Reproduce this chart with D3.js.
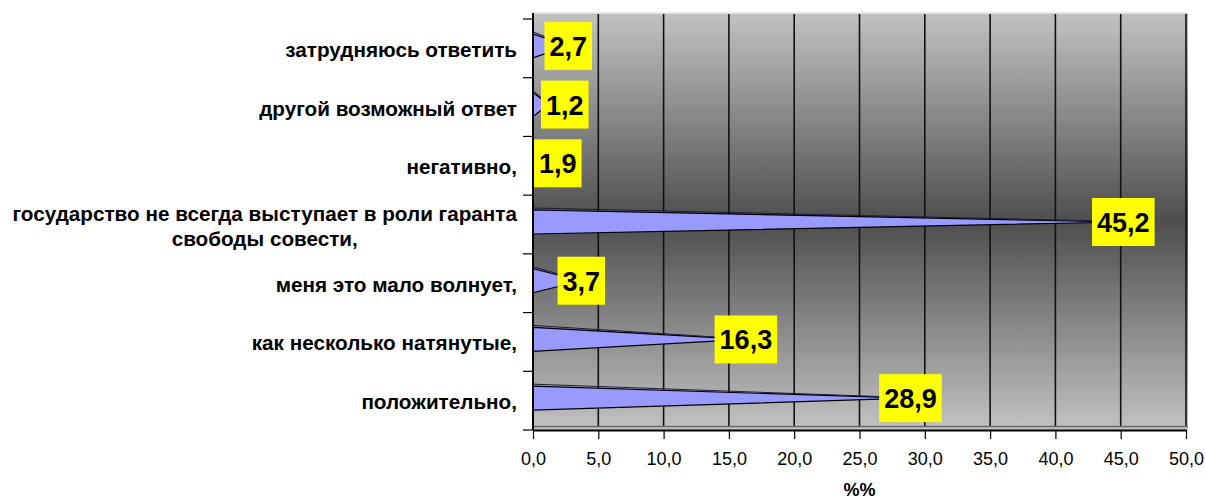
<!DOCTYPE html>
<html>
<head>
<meta charset="utf-8">
<script src="https://cdn.jsdelivr.net/npm/d3@7"></script>
<style>
  body { margin: 0; background: #fff; }
  text { font-family: Arial, "Liberation Sans", sans-serif; }
</style>
</head>
<body>
<div id="chart"></div>
<script>
// answers, top to bottom as in the chart
var categories = [
  "затрудняюсь ответить",
  "другой возможный ответ",
  "негативно,",
  "государство не всегда выступает в роли гаранта|свободы совести,",
  "меня это мало волнует,",
  "как несколько натянутые,",
  "положительно,"
];
var values = [2.7, 1.2, 1.9, 45.2, 3.7, 16.3, 28.9];
var valueLabels = ["2,7", "1,2", "1,9", "45,2", "3,7", "16,3", "28,9"];
var xTicks = [0, 5, 10, 15, 20, 25, 30, 35, 40, 45, 50];
var axisTitle = "%%";

var width = 1205, height = 500;
var margin = {top: 19, right: 19, bottom: 70, left: 533};

var svg = d3.select("#chart").append("svg")
  .attr("width", width)
  .attr("height", height);

var x = d3.scaleLinear().domain([0, 50]).range([margin.left, width - margin.right]);
var y = d3.scaleBand().domain(categories).range([margin.top, height - margin.bottom]).padding(0);

var fmt = function(v) { return d3.format(".1f")(v).replace(".", ","); };

// background gradient
var defs = svg.append("defs");
var grad = defs.append("linearGradient")
  .attr("id", "bg").attr("x1", 0).attr("y1", 0).attr("x2", 0).attr("y2", 1);
grad.append("stop").attr("offset", "0%").attr("stop-color", "#c2c2c2");
grad.append("stop").attr("offset", "50%").attr("stop-color", "#4e4e4e");
grad.append("stop").attr("offset", "100%").attr("stop-color", "#c2c2c2");

var top0 = margin.top - 6, bottom0 = height - margin.bottom;
svg.append("rect")
  .attr("x", x(0)).attr("y", top0)
  .attr("width", x(50) - x(0) + 2).attr("height", bottom0 - top0)
  .attr("fill", "url(#bg)");
svg.append("line")
  .attr("x1", x(0)).attr("x2", x(50) + 2)
  .attr("y1", top0).attr("y2", top0)
  .attr("stroke", "#e4e4e4").attr("stroke-width", 1.5);

// gridlines
svg.append("g").selectAll("line")
  .data(xTicks.slice(1))
  .enter().append("line")
  .attr("x1", function(d) { return x(d); })
  .attr("x2", function(d) { return x(d); })
  .attr("y1", top0 + 1).attr("y2", bottom0 - 3)
  .attr("stroke", "#111").attr("stroke-width", 1.6);

// floor
svg.append("line")
  .attr("x1", x(0)).attr("x2", x(50) + 2)
  .attr("y1", bottom0 - 3.5).attr("y2", bottom0 - 3.5)
  .attr("stroke", "#6a6a6a").attr("stroke-width", 1.5);

// cones
var half = 12;
var cone = svg.append("g").selectAll("g")
  .data(values)
  .enter().append("g");

cone.append("path")
  .attr("d", function(d, i) {
    var c = y(categories[i]) + y.bandwidth() / 2 - 2.5;
    return "M" + x(0) + "," + (c - half) + "L" + x(d) + "," + c + "L" + x(0) + "," + (c + half) + "Z";
  })
  .attr("fill", "#9999ff")
  .attr("stroke", "#000")
  .attr("stroke-width", 1.2);

cone.append("line")
  .attr("x1", x(0))
  .attr("y1", function(d, i) { return y(categories[i]) + y.bandwidth() / 2 - 2.5 - half - 2; })
  .attr("x2", function(d) { return x(d); })
  .attr("y2", function(d, i) { return y(categories[i]) + y.bandwidth() / 2 - 3; })
  .attr("stroke", "#1c1c40")
  .attr("stroke-width", 1);

// axes
var yt = svg.append("g");
yt.append("line")
  .attr("x1", x(0)).attr("x2", x(0))
  .attr("y1", top0).attr("y2", bottom0)
  .attr("stroke", "#000").attr("stroke-width", 2);
var yEdges = categories.map(function(c) { return y(c); }).concat([bottom0]);
yt.selectAll(".tk").data(yEdges).enter().append("line")
  .attr("x1", x(0) - 10).attr("x2", x(0))
  .attr("y1", function(d) { return d; }).attr("y2", function(d) { return d; })
  .attr("stroke", "#000").attr("stroke-width", 1.2);

var xAxis = d3.axisBottom(x).tickValues(xTicks).tickFormat(fmt).tickSize(9).tickSizeOuter(0).tickPadding(13);
var gx = svg.append("g").attr("transform", "translate(0," + bottom0 + ")").call(xAxis);
gx.select(".domain").attr("stroke", "#000").attr("stroke-width", 2);
gx.selectAll(".tick line").attr("stroke", "#000").attr("stroke-width", 1.2);
gx.selectAll(".tick text")
  .attr("font-size", 18).attr("fill", "#000")
  .style("font-family", "Arial, 'Liberation Sans', sans-serif");

svg.append("text")
  .attr("x", (x(0) + x(50)) / 2)
  .attr("y", height - 4)
  .attr("text-anchor", "middle")
  .attr("font-size", 18).attr("font-weight", "bold")
  .text(axisTitle);

// category labels
var labelX = x(0) - 16;
categories.forEach(function(c) {
  var lines = c.split("|");
  var cy = y(c) + y.bandwidth() / 2 + 1;
  var t = svg.append("text")
    .attr("font-size", 20.7).attr("font-weight", "bold")
    .attr("fill", "#000");
  if (lines.length == 1) {
    t.attr("x", labelX).attr("y", cy).attr("text-anchor", "end")
      .attr("dominant-baseline", "central").text(lines[0]);
  } else {
    // wrapped label: lines centred on the widest one
    t.attr("text-anchor", "middle").attr("dominant-baseline", "central");
    t.append("tspan").text(lines[0]).attr("y", cy - 12.5);
    var w = t.node().getComputedTextLength();
    t.select("tspan").attr("x", labelX - w / 2);
    t.append("tspan").text(lines[1]).attr("x", labelX - w / 2).attr("y", cy + 12.5);
  }
});

// value labels
var lab = svg.append("g").selectAll("g")
  .data(values)
  .enter().append("g");

lab.each(function(d, i) {
  var g = d3.select(this);
  var c = y(categories[i]) + y.bandwidth() / 2 - 2.5;
  var t = g.append("text")
    .attr("font-size", 27).attr("font-weight", "bold")
    .attr("text-anchor", "middle").attr("dominant-baseline", "central")
    .text(valueLabels[i]);
  var w = t.node().getComputedTextLength() + 10;
  var cx = x(d);
  if (cx - w / 2 < x(0)) cx = x(0) + 8 + w / 2;
  t.attr("x", cx).attr("y", c + 1);
  g.insert("rect", "text")
    .attr("x", cx - w / 2).attr("y", c - 24)
    .attr("width", w).attr("height", 48)
    .attr("fill", "#ffff00");
});
</script>
</body>
</html>
